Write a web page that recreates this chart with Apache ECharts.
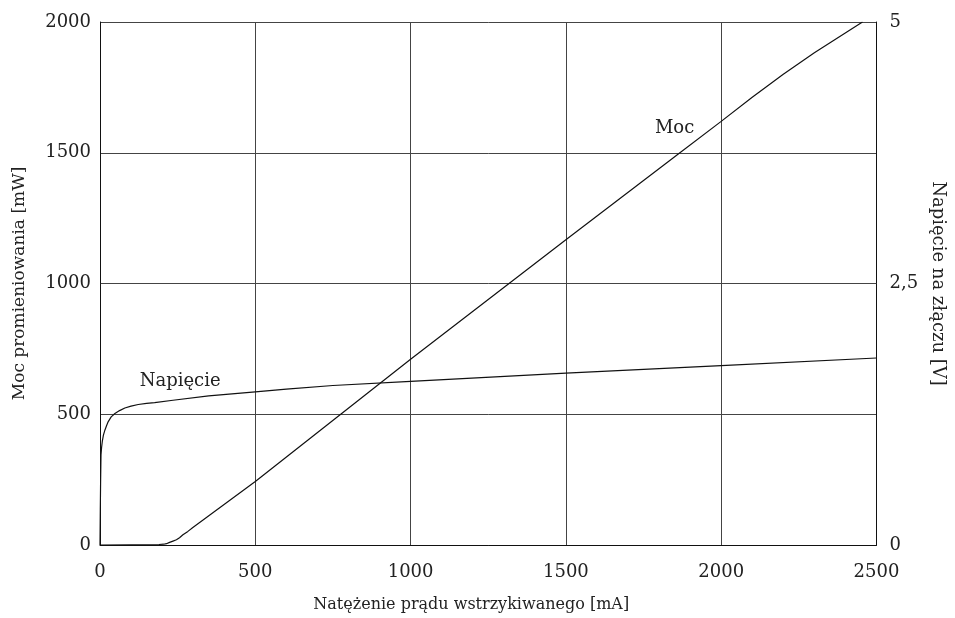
<!DOCTYPE html>
<html>
<head>
<meta charset="utf-8">
<script src="https://cdn.jsdelivr.net/npm/echarts@6/dist/echarts.min.js"></script>
<style>
  html, body { margin: 0; padding: 0; background: #fff; }
  #chart { width: 955px; height: 618px; }
</style>
</head>
<body>
<div id="chart"></div>
<script>
// Injection current [mA] vs. radiated power [mW]
const powerCurrent = [0, 100, 190, 205, 214, 224, 235, 246, 256, 267, 283, 299, 500, 1000, 1500, 1864, 2000, 2100, 2200, 2300, 2455];
const powerValues  = [0, 1, 2, 3, 5, 10, 15, 20, 28, 39, 52, 67, 243, 710, 1167, 1497, 1620, 1712, 1800, 1882, 2000];

// Injection current [mA] vs. junction voltage [V]
const voltageCurrent = [0, 1, 2, 3.2, 5, 7.4, 11, 16, 21, 26.6, 36, 48, 63, 80, 100, 123, 150, 176, 235, 350, 500, 600, 750, 1000, 1500, 2000, 2500];
const voltageValues  = [0, 0.35, 0.62, 0.86, 0.93, 0.99, 1.05, 1.10, 1.14, 1.18, 1.225, 1.257, 1.285, 1.31, 1.328, 1.343, 1.354, 1.362, 1.384, 1.425, 1.464, 1.49, 1.525, 1.565, 1.643, 1.715, 1.788];

// Axis ranges and ticks
const currentTicks = [0, 500, 1000, 1500, 2000, 2500];
const powerTicks = [0, 500, 1000, 1500, 2000];
const voltageTicks = [0, 2.5, 5];

// Curve captions, placed in data coordinates
const powerCaption = { text: 'Moc', current: 1850, value: 1592 };
const voltageCaption = { text: 'Napięcie', current: 258, value: 1.565 };

const FONT = 'DejaVu Serif';
const TXT = '#222';

function pairs(xs, ys) { return xs.map((x, i) => [x, ys[i]]); }

function caption(c) {
  return {
    symbol: 'circle',
    symbolSize: 1,
    itemStyle: { color: 'rgba(0,0,0,0)' },
    silent: true,
    data: [{ coord: [c.current, c.value] }],
    label: { show: true, position: 'inside', formatter: c.text,
             fontFamily: FONT, fontSize: 18, color: TXT }
  };
}

const chart = echarts.init(document.getElementById('chart'), null, { renderer: 'canvas' });

chart.setOption({
  animation: false,
  backgroundColor: '#fff',
  grid: { left: 100, right: 75, top: 22, bottom: 71, containLabel: false },
  xAxis: {
    type: 'value',
    min: currentTicks[0],
    max: currentTicks[currentTicks.length - 1],
    interval: currentTicks[1] - currentTicks[0],
    name: 'Natężenie prądu wstrzykiwanego [mA]',
    nameLocation: 'middle',
    nameGap: 52,
    nameTextStyle: { fontFamily: FONT, fontSize: 16, color: TXT, padding: [0, 34, 0, 0] },
    axisLine: { show: true, lineStyle: { color: '#111', width: 1 } },
    axisTick: { show: false },
    axisLabel: { fontFamily: FONT, fontSize: 18, color: TXT, margin: 18, formatter: v => String(v) },
    splitLine: { show: true, lineStyle: { color: '#444', width: 1 } }
  },
  yAxis: [
    {
      type: 'value',
      position: 'left',
      min: powerTicks[0],
      max: powerTicks[powerTicks.length - 1],
      interval: powerTicks[1] - powerTicks[0],
      name: 'Moc promieniowania [mW]',
      nameLocation: 'middle',
      nameGap: 72,
      nameTextStyle: { fontFamily: FONT, fontSize: 17, color: TXT },
      axisLine: { show: true, lineStyle: { color: '#111', width: 1 } },
      axisTick: { show: false },
      axisLabel: { fontFamily: FONT, fontSize: 18, color: TXT, margin: 9, formatter: v => String(v) },
      splitLine: { show: true, lineStyle: { color: '#444', width: 1 } }
    },
    {
      type: 'value',
      position: 'right',
      min: voltageTicks[0],
      max: voltageTicks[voltageTicks.length - 1],
      interval: voltageTicks[1] - voltageTicks[0],
      name: 'Napięcie na złączu [V]',
      nameLocation: 'middle',
      nameGap: 50,
      nameRotate: -90,
      nameTextStyle: { fontFamily: FONT, fontSize: 18, color: TXT },
      axisLine: { show: true, lineStyle: { color: '#111', width: 1 } },
      axisTick: { show: false },
      axisLabel: {
        fontFamily: FONT, fontSize: 18, color: TXT, margin: 13,
        formatter: v => String(v).replace('.', ',')
      },
      splitLine: { show: false }
    }
  ],
  series: [
    {
      name: 'Moc',
      type: 'line',
      yAxisIndex: 0,
      data: pairs(powerCurrent, powerValues),
      showSymbol: false,
      smooth: false,
      lineStyle: { color: '#111', width: 1.2 },
      markPoint: caption(powerCaption)
    },
    {
      name: 'Napięcie',
      type: 'line',
      yAxisIndex: 1,
      data: pairs(voltageCurrent, voltageValues),
      showSymbol: false,
      smooth: false,
      lineStyle: { color: '#111', width: 1.2 },
      markPoint: caption(voltageCaption)
    }
  ]
});
</script>
</body>
</html>
